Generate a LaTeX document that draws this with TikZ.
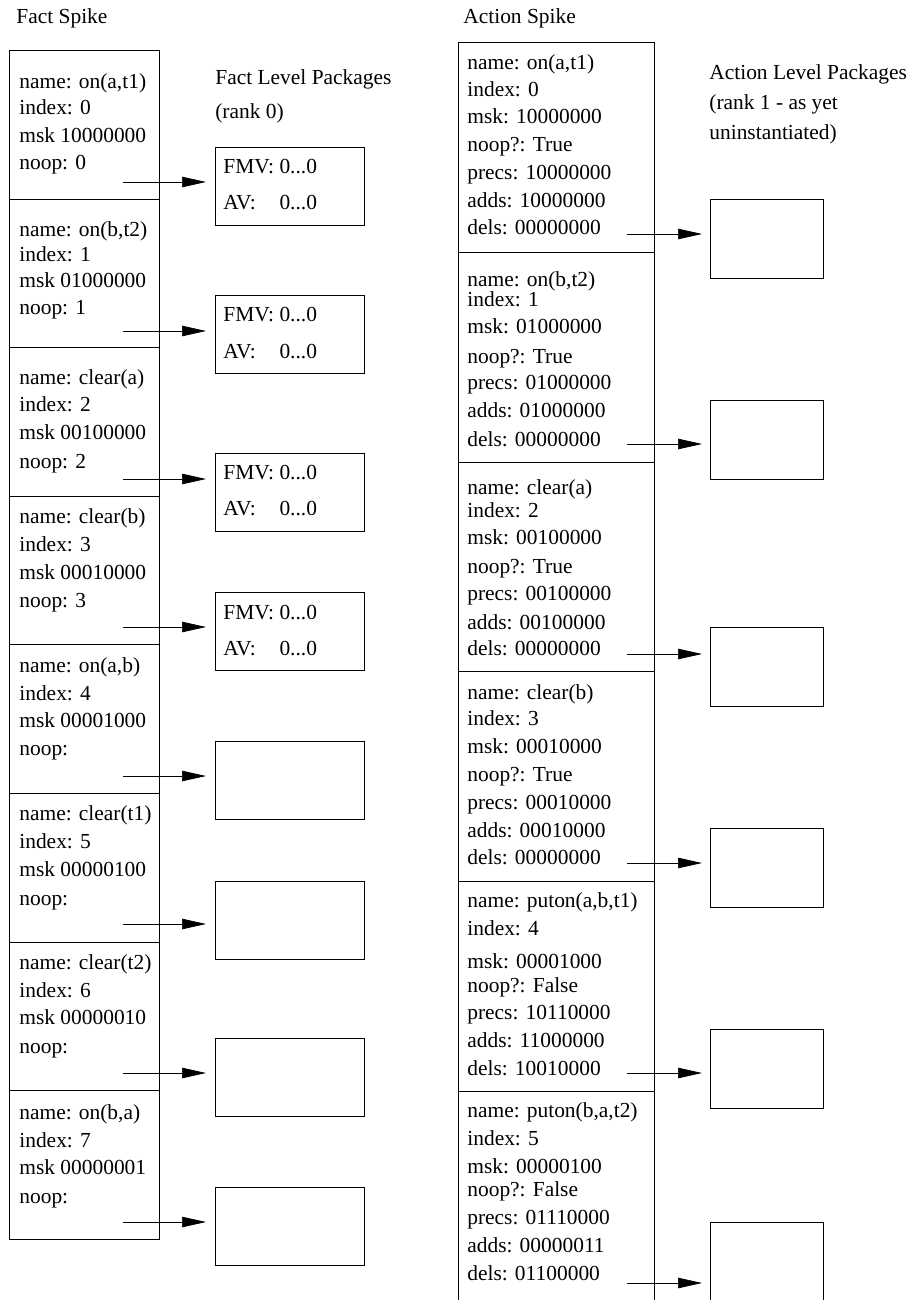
\documentclass[tikz,border=0pt]{standalone}
\usepackage{fontspec}
\setmainfont{Liberation Serif}
\usetikzlibrary{arrows.meta}
\pgfdeclarelayer{edgelayer}
\pgfdeclarelayer{nodelayer}
\pgfsetlayers{edgelayer,nodelayer,main}
\tikzset{font=\fontsize{12.2}{14}\selectfont}
\tikzstyle{none}=[inner sep=0pt]
\tikzstyle{txt}=[inner sep=0pt,anchor=base west]
\tikzstyle{fcell}=[draw,rectangle,anchor=north west,inner sep=0pt,minimum width=3cm,minimum height=2.972cm]
\tikzstyle{acell}=[draw,rectangle,anchor=north west,inner sep=0pt,minimum width=3.92cm,minimum height=4.196cm]
\tikzstyle{fpkg}=[draw,rectangle,anchor=north west,inner sep=0pt,minimum width=2.98cm,minimum height=1.56cm]
\tikzstyle{apkg}=[draw,rectangle,anchor=north west,inner sep=0pt,minimum width=2.26cm,minimum height=1.58cm]
\tikzstyle{ptr}=[-{Triangle[length=0.48cm,width=0.21cm]}]

\begin{document}
\begin{tikzpicture}[x=0.02cm,y=-0.02cm,line width=0.8pt]
	\useasboundingbox (0,0) rectangle (913,1300);
	\begin{pgfonlayer}{nodelayer}
		% titles
		\node [style=txt] (factspike) at (16,24) {Fact Spike};
		\node [style=txt] (factlevel) at (215,85) {Fact Level Packages};
		\node [style=txt] (rank0) at (215,119) {(rank 0)};
		\node [style=txt] (actspike) at (463,24) {Action Spike};
		\node [style=txt] (actlevel) at (709,80) {Action Level Packages};
		\node [style=txt] (rank1) at (709,110) {(rank 1 - as yet};
		\node [style=txt] (uninst) at (709,140) {uninstantiated)};
		% fact spike
		\foreach \i/\y in {1/50,2/198.6,3/347.2,4/495.8,5/644.4,6/793,7/941.6,8/1090.2}
			\node [style=fcell] (f\i) at (9,\y) {};
		\foreach \y/\t in {82/{name: on(a,t1)},108/{index: 0},136/{msk 10000000},163/{noop: 0},
			230/{name: on(b,t2)},255/{index: 1},281/{msk 01000000},308/{noop: 1},
			377/{name: clear(a)},404/{index: 2},432/{msk 00100000},461/{noop: 2},
			516/{name: clear(b)},544/{index: 3},572/{msk 00010000},600/{noop: 3},
			665/{name: on(a,b)},693/{index: 4},720/{msk 00001000},748/{noop:},
			813/{name: clear(t1)},841/{index: 5},869/{msk 00000100},898/{noop:},
			962/{name: clear(t2)},990/{index: 6},1017/{msk 00000010},1046/{noop:},
			1112/{name: on(b,a)},1140/{index: 7},1167/{msk 00000001},1196/{noop:}}
			\node [style=txt] (ft\y) at (19,\y+7) {\t};
		% fact level packages
		\foreach \i/\y in {1/147,2/295,3/453,4/592,5/741,6/881,7/1038,8/1187}
			\node [style=fpkg] (fp\i) at (215,\y) {};
		\foreach \i/\y in {1/167,2/315,3/472,4/612} {
			\node [style=txt] (fmv\i) at (223,\y+7) {FMV: 0...0};
			\node [style=txt] (av\i) at (223,\y+43) {\rlap{AV:}\phantom{FMV:} 0...0};
		}
		\foreach \i/\y in {1/182,2/331,3/479,4/627,5/776,6/924,7/1073,8/1222}
			\node [style=none] (fs\i) at (123,\y) {};
		% action spike
		\foreach \i/\y in {1/42,2/251.8,3/461.6,4/671.4,5/881.2,6/1091}
			\node [style=acell] (a\i) at (458,\y) {};
		\foreach \y/\t in {63/{name: on(a,t1)},90/{index: 0},117/{msk: 10000000},145/{noop?: True},173/{precs: 10000000},201/{adds: 10000000},228/{dels: 00000000},
			280/{name: on(b,t2)},300/{index: 1},327/{msk: 01000000},356/{noop?: True},383/{precs: 01000000},411/{adds: 01000000},439/{dels: 00000000},
			487/{name: clear(a)},510/{index: 2},537/{msk: 00100000},566/{noop?: True},593/{precs: 00100000},622/{adds: 00100000},648/{dels: 00000000},
			692/{name: clear(b)},718/{index: 3},746/{msk: 00010000},774/{noop?: True},802/{precs: 00010000},830/{adds: 00010000},857/{dels: 00000000},
			900/{name: puton(a,b,t1)},928/{index: 4},961/{msk: 00001000},985/{noop?: False},1012/{precs: 10110000},1040/{adds: 11000000},1068/{dels: 10010000},
			1110/{name: puton(b,a,t2)},1138/{index: 5},1166/{msk: 00000100},1189/{noop?: False},1217/{precs: 01110000},1245/{adds: 00000011},1273/{dels: 01100000}}
			\node [style=txt] (at\y) at (467,\y+7) {\t};
		% action level packages
		\foreach \i/\y in {1/199,2/400,3/627,4/828,5/1029,6/1222}
			\node [style=apkg] (ap\i) at (710,\y) {};
		\foreach \i/\y in {1/234,2/444,3/654,4/863,5/1073,6/1283}
			\node [style=none] (as\i) at (627,\y) {};
	\end{pgfonlayer}
	\begin{pgfonlayer}{edgelayer}
		\foreach \i in {1,...,8}
			\draw [style=ptr,shorten >=0.18cm] (fs\i.center) to (fs\i.center -| fp\i.west);
		\foreach \i in {1,...,6}
			\draw [style=ptr,shorten >=0.16cm] (as\i.center) to (as\i.center -| ap\i.west);
	\end{pgfonlayer}
\end{tikzpicture}
\end{document}
